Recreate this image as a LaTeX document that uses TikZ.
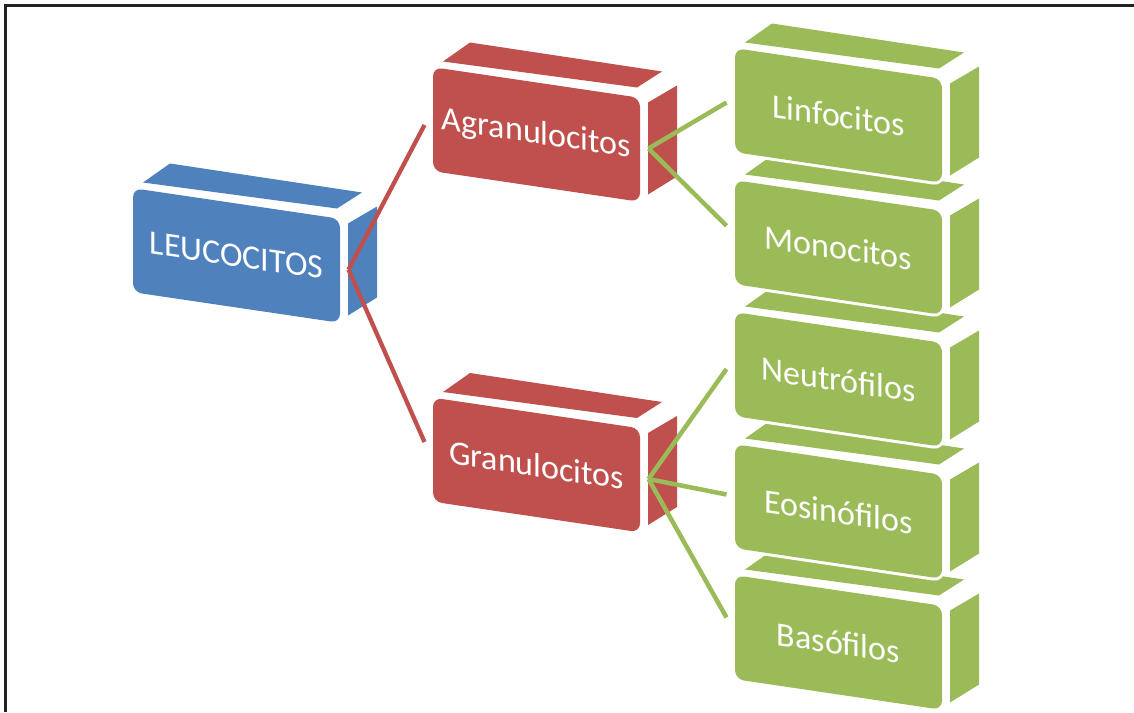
\documentclass[tikz,border=0pt]{standalone}
\usepackage{fontspec}
\setmainfont{Carlito}
\usetikzlibrary{calc}
\definecolor{cblue}{HTML}{4F81BD}
\definecolor{cred}{HTML}{C0504D}
\definecolor{cgreen}{HTML}{9BBB59}
\definecolor{framecol}{HTML}{222222}
\tikzset{
  face/.style={fill=#1, preaction={draw=white, line width=6pt, line join=round}},
  frontface/.style={fill=#1, preaction={draw=white, line width=6pt},
    minimum width=207pt, minimum height=104pt, inner sep=0pt,
    rounded corners=9pt, yslant=-0.148, text=white,
    font=\fontsize{34}{34}\selectfont},
  redline/.style={draw=cred, line width=4.3pt},
  greenline/.style={draw=cgreen, line width=4.5pt},
  framerule/.style={draw=framecol, line width=3pt}
}
% #1 name, #2 centre of front face, #3 colour, #4 text, #5 y offset of entry point
\newcommand\cubebox[5]{%
  \begin{scope}[shift={(#2)}]
    \path[face=#3] (-93.5,-73) -- (-66.5,-92) -- (125.5,-63) -- (100.5,-47) -- cycle;
    \path[face=#3] (111.5,-32) -- (140.5,-49) -- (140.5,42) -- (111.5,60) -- cycle;
    \node[frontface=#3] (#1) at (0,0) {#4};
    \coordinate (#1-out) at (112,14);
    \coordinate (#1-in) at (-112,#5);
  \end{scope}}
\begin{document}
\begin{tikzpicture}[x=1pt,y=-1pt]
  \useasboundingbox (0,0) rectangle (1134,712);
  \fill[white] (0,0) rectangle (1134,712);
  \coordinate (fa) at (5.5,712);
  \coordinate (fb) at (5.5,5);
  \coordinate (fc) at (1134,5);
  \draw[framerule] (fa) -- (fb) -- (fc);

  \cubebox{leu}{236.5,255.5}{cblue}{LEUCOCITOS}{0}
  \cubebox{agr}{536.5,134.5}{cred}{Agranulocitos}{-9.5}
  \cubebox{gra}{536.5,465}{cred}{Granulocitos}{-23}

  \cubebox{bas}{838.5,642.5}{cgreen}{Basófilos}{-25}
  \cubebox{eos}{838.5,511.5}{cgreen}{Eosinófilos}{-17}
  \cubebox{neu}{838.5,379.5}{cgreen}{Neutrófilos}{-10.5}
  \cubebox{mon}{838.5,247.5}{cgreen}{Monocitos}{-21.75}
  \cubebox{lin}{838.5,115.5}{cgreen}{Linfocitos}{-13}

  \draw[redline] (leu-out) -- (agr-in);
  \draw[redline] (leu-out) -- (gra-in);
  \draw[greenline] (agr-out) -- (lin-in);
  \draw[greenline] (agr-out) -- (mon-in);
  \draw[greenline] (gra-out) -- (neu-in);
  \draw[greenline] (gra-out) -- (eos-in);
  \draw[greenline] (gra-out) -- (bas-in);
\end{tikzpicture}
\end{document}
